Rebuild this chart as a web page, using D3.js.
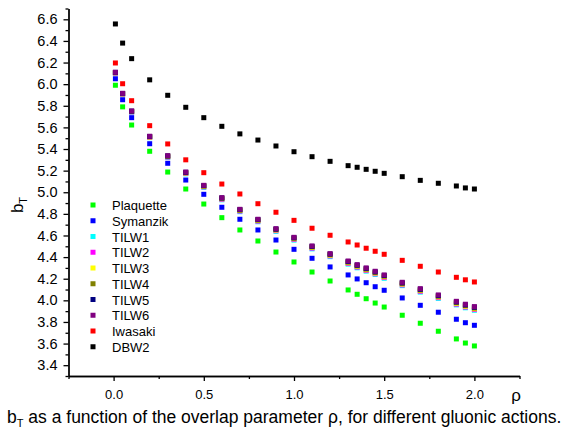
<!DOCTYPE html>
<html>
<head>
<meta charset="utf-8">
<script src="https://cdn.jsdelivr.net/npm/d3@7"></script>
<style>
    body{ margin:0; background:#fff; }
    svg{ display:block; font-family:"Liberation Sans", Arial, sans-serif; }
    .axis path, .axis line{ stroke:#000; stroke-width:1.3; }
    .axis text{ fill:#000; }
</style>
</head>
<body>
<div id="chart"></div>
<script>
// overlap parameter values
var rho = [0.01, 0.05, 0.1, 0.2, 0.3, 0.4, 0.5, 0.6, 0.7, 0.8, 0.9, 1.0, 1.1, 1.2, 1.3, 1.35, 1.4, 1.45, 1.5, 1.6, 1.7, 1.8, 1.9, 1.95, 2.0];

// b_T for each action
var plaquette = [5.99, 5.79, 5.622, 5.379, 5.187, 5.03, 4.891, 4.765, 4.651, 4.549, 4.447, 4.355, 4.262, 4.179, 4.096, 4.056, 4.015, 3.975, 3.938, 3.862, 3.788, 3.714, 3.643, 3.605, 3.578];
var symanzik  = [6.05, 5.856, 5.69, 5.449, 5.268, 5.113, 4.981, 4.861, 4.75, 4.651, 4.558, 4.472, 4.389, 4.309, 4.235, 4.198, 4.163, 4.126, 4.093, 4.022, 3.954, 3.89, 3.825, 3.793, 3.769];
var tilw1 = [6.10, 5.905, 5.74, 5.505, 5.322, 5.170, 5.045, 4.930, 4.820, 4.727, 4.638, 4.557, 4.476, 4.404, 4.335, 4.301, 4.270, 4.239, 4.204, 4.136, 4.076, 4.018, 3.958, 3.931, 3.908];
var tilw2 = [6.102, 5.908, 5.743, 5.508, 5.326, 5.174, 5.05, 4.935, 4.826, 4.733, 4.645, 4.564, 4.483, 4.411, 4.342, 4.308, 4.277, 4.246, 4.211, 4.143, 4.083, 4.025, 3.965, 3.938, 3.915];
var tilw3 = [6.105, 5.91, 5.746, 5.511, 5.33, 5.178, 5.054, 4.94, 4.831, 4.738, 4.65, 4.57, 4.489, 4.417, 4.348, 4.314, 4.283, 4.252, 4.218, 4.15, 4.09, 4.032, 3.972, 3.945, 3.922];
var tilw4 = [6.107, 5.912, 5.748, 5.514, 5.333, 5.181, 5.058, 4.944, 4.835, 4.743, 4.655, 4.575, 4.494, 4.423, 4.354, 4.32, 4.289, 4.258, 4.224, 4.156, 4.096, 4.038, 3.979, 3.952, 3.929];
var tilw5 = [6.109, 5.914, 5.75, 5.516, 5.336, 5.184, 5.061, 4.947, 4.839, 4.747, 4.659, 4.579, 4.499, 4.428, 4.359, 4.325, 4.295, 4.264, 4.23, 4.162, 4.102, 4.044, 3.985, 3.958, 3.936];
var tilw6 = [6.11, 5.915, 5.752, 5.518, 5.338, 5.187, 5.064, 4.95, 4.842, 4.75, 4.663, 4.583, 4.503, 4.432, 4.364, 4.33, 4.30, 4.269, 4.235, 4.167, 4.108, 4.05, 3.991, 3.964, 3.942];
var iwasaki = [6.196, 6.004, 5.847, 5.616, 5.447, 5.30, 5.181, 5.076, 4.984, 4.894, 4.815, 4.74, 4.667, 4.602, 4.54, 4.512, 4.482, 4.454, 4.426, 4.37, 4.315, 4.262, 4.213, 4.19, 4.17];
var dbw2 = [6.557, 6.38, 6.236, 6.04, 5.897, 5.786, 5.69, 5.61, 5.54, 5.483, 5.428, 5.375, 5.329, 5.286, 5.246, 5.231, 5.212, 5.194, 5.175, 5.144, 5.11, 5.083, 5.058, 5.04, 5.03];

var names  = ["Plaquette", "Symanzik", "TILW1", "TILW2", "TILW3", "TILW4", "TILW5", "TILW6", "Iwasaki", "DBW2"];
var values = [plaquette, symanzik, tilw1, tilw2, tilw3, tilw4, tilw5, tilw6, iwasaki, dbw2];
var colors = ["#00ff00", "#0000ff", "#00ffff", "#ff00ff", "#ffff00", "#808000", "#000080", "#800080", "#ff0000", "#000000"];

var xMajor = [0.0, 0.5, 1.0, 1.5, 2.0];
var xMinor = [-0.25, 0.25, 0.75, 1.25, 1.75, 2.25];
var yMajor = [3.4, 3.6, 3.8, 4.0, 4.2, 4.4, 4.6, 4.8, 5.0, 5.2, 5.4, 5.6, 5.8, 6.0, 6.2, 6.4, 6.6];
var yMinor = [3.3, 3.5, 3.7, 3.9, 4.1, 4.3, 4.5, 4.7, 4.9, 5.1, 5.3, 5.5, 5.7, 5.9, 6.1, 6.3, 6.5, 6.7];

var W = 574, H = 432;
var svg = d3.select("#chart").append("svg")
    .attr("width", W).attr("height", H);

var x = d3.scaleLinear().domain([-0.25, 2.25]).range([68.5, 519.5]);
var y = d3.scaleLinear().domain([3.3, 6.7]).range([376, 8.5]);

// minor ticks first, then major axes on top
svg.append("g").attr("class", "axis")
    .attr("transform", "translate(0,376)")
    .call(d3.axisBottom(x).tickValues(xMinor).tickSize(3).tickSizeOuter(0).tickFormat(""));
svg.append("g").attr("class", "axis")
    .attr("transform", "translate(68.5,0)")
    .call(d3.axisLeft(y).tickValues(yMinor).tickSize(3).tickSizeOuter(0).tickFormat(""));

svg.append("g").attr("class", "axis")
    .attr("transform", "translate(0,376)")
    .call(d3.axisBottom(x).tickValues(xMajor).tickSize(5).tickSizeOuter(0).tickPadding(9)
        .tickFormat(d3.format(".1f")))
    .selectAll("text").style("font-size", "13px");
svg.append("g").attr("class", "axis")
    .attr("transform", "translate(68.5,0)")
    .call(d3.axisLeft(y).tickValues(yMajor).tickSize(5).tickSizeOuter(0).tickPadding(6)
        .tickFormat(d3.format(".1f")))
    .selectAll("text").style("font-size", "14.5px");

// axis titles
var yt = svg.append("text")
    .attr("transform", "translate(23,205) rotate(-90)")
    .attr("text-anchor", "middle")
    .style("font-size", "17px");
yt.append("tspan").text("b");
yt.append("tspan").attr("dy", 4).style("font-size", "11px").text("T");

svg.append("text").attr("x", 516).attr("y", 401)
    .attr("text-anchor", "middle").style("font-size", "17px").text("ρ");

// caption
var cap = svg.append("text").attr("x", 7).attr("y", 423).style("font-size", "17.5px");
cap.append("tspan").text("b");
cap.append("tspan").attr("dy", 4).style("font-size", "11px").text("T");
cap.append("tspan").attr("dy", -4).text(" as a function of the overlap parameter ρ, for different gluonic actions.");

// points
var s = 5;
values.forEach(function(vals, i) {
    svg.append("g").selectAll("rect")
        .data(vals)
        .enter().append("rect")
        .attr("x", function(d, j) { return x(rho[j]) - s / 2; })
        .attr("y", function(d) { return y(d) - s / 2; })
        .attr("width", s).attr("height", s)
        .attr("fill", colors[i]);
});

// legend
var leg = svg.append("g").attr("transform", "translate(93,205)");
names.forEach(function(n, i) {
    leg.append("rect").attr("x", -s / 2).attr("y", i * 15.75 - s / 2)
        .attr("width", s).attr("height", s).attr("fill", colors[i]);
    leg.append("text").attr("x", 19).attr("y", i * 15.75 + 5)
        .style("font-size", "13px").text(n);
});
</script>
</body>
</html>
